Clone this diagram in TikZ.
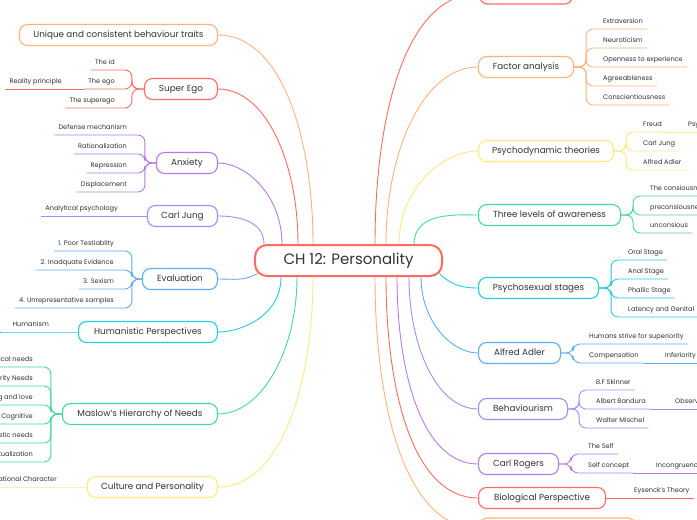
\documentclass[tikz,border=0pt]{standalone}
\usepackage{fontspec}
\setmainfont{Poppins}
\usetikzlibrary{positioning}
\definecolor{cred}{HTML}{FF6B61}
\definecolor{corange}{HTML}{FFB27C}
\definecolor{cyellow}{HTML}{FFE97D}
\definecolor{cgreen}{HTML}{45D8A6}
\definecolor{ccyan}{HTML}{26CCDA}
\definecolor{cblue}{HTML}{5DAEF3}
\definecolor{cviolet}{HTML}{9E8FF8}
\definecolor{cpurple}{HTML}{B67BEB}
\definecolor{txt}{HTML}{333333}

\begin{document}
\begin{tikzpicture}[x=1pt, y=1pt,
    br/.style={draw, fill=white, rounded corners=8pt, line width=1.1pt, minimum height=21pt, inner xsep=0pt, text height=7pt, text depth=2pt, font=\fontsize{8.8}{10}\selectfont, text=txt},
    kid/.style={inner xsep=4pt, inner ysep=2.5pt, text height=5pt, text depth=2.5pt, font=\fontsize{6.6}{8}\selectfont, text=txt},
    ln/.style={line width=0.9pt},
    fork/.style={line width=0.9pt, rounded corners=7pt},
    up/.style={out=90, out looseness=1.2, in looseness=0.7},
    down/.style={out=-90, out looseness=1.2, in looseness=0.7}
  ]
  \fill[white] (0,0) rectangle (697,-520);
  \useasboundingbox (0,0) rectangle (697,-520);
  \clip (0,0) rectangle (697,-520);

  \node[draw=cred, fill=white, line width=2pt, rounded corners=12pt, minimum width=187pt, minimum height=31pt, font=\fontsize{15}{18}\selectfont, text=txt] (ch) at (348.5,-260.5) {CH 12: Personality};

  % main branches, left
  \foreach \n/\t/\y/\w/\c in {uni/Unique and consistent behaviour traits/35/198/corange, sup/Super Ego/89/73/cred, anx/Anxiety/163/61/cpurple, cjl/Carl Jung/216/70/cviolet, ev/Evaluation/279/75/cblue, hum/Humanistic Perspectives/332/139/ccyan, mas/Maslow's Hierarchy of Needs/414/155/cgreen, cul/Culture and Personality/487/130/cyellow}
    \node[br, draw=\c, minimum width=\w pt, anchor=east] (\n) at (218,-\y) {\t};

  % main branches, right
  \node[br, draw=cred, minimum width=93pt, anchor=west] (top) at (479,6.5) {};
  \foreach \n/\t/\y/\w/\c in {fac/Factor analysis/67/95/corange, psy/Psychodynamic theories/151/135/cyellow, thr/Three levels of awareness/215/142/cgreen, pss/Psychosexual stages/288/120/ccyan, adl/Alfred Adler/353/82/cblue, beh/Behaviourism/409/89/cviolet, rog/Carl Rogers/464/80/cpurple, bio/Biological Perspective/498/127/cred}
    \node[br, draw=\c, minimum width=\w pt, anchor=west] (\n) at (478,-\y) {\t};
  \node[br, draw=corange, minimum width=156pt, anchor=west] (bot) at (479,-528.5) {};

  % links from the centre
  \foreach \n/\s/\c in {uni/59/corange, sup/44/cred, anx/28/cpurple, cjl/10/cviolet}
    \draw[ln, \c] ([xshift=\s pt]ch.north west) to[up, in=0] (\n.east);
  \foreach \n/\s/\c in {hum/27/ccyan, mas/43/cgreen, cul/59/cyellow}
    \draw[ln, \c] ([xshift=\s pt]ch.south west) to[down, in=0] (\n.east);
  \foreach \n/\s/\c in {top/121/cred, fac/132/corange, psy/145/cyellow, thr/160/cgreen}
    \draw[ln, \c] ([xshift=\s pt]ch.north west) to[up, in=180] (\n.west);
  \foreach \n/\s/\c in {bot/121/corange, bio/132/cred, rog/143/cpurple, beh/155/cviolet, adl/167/cblue}
    \draw[ln, \c] ([xshift=\s pt]ch.south west) to[down, in=180] (\n.west);
  \draw[ln, cblue] ([xshift=3.5pt, yshift=3.5pt]ch.south west) to[out=210, in=0] (ev.east);
  \draw[ln, ccyan] ([xshift=-3.5pt, yshift=3.5pt]ch.south east) to[out=-45, in=180] (pss.west);

  % super ego
  \foreach \i/\t/\y in {1/The id/70, 2/The ego/89, 3/The superego/108} {
    \node[kid, anchor=south east] (sup\i) at (119,-\y) {\t};
    \draw[fork, cred] (sup.west) -- ++(-12,0) |- (sup\i.south west);
  }
  \node[kid, anchor=south east] (sup4) at (66,-89) {Reality principle};
  \draw[ln, cred] (sup2.south west) -- (sup4.south west);

  % anxiety
  \foreach \i/\t/\y in {1/Defense mechanism/135, 2/Rationalization/154, 3/Repression/173, 4/Displacement/192} {
    \node[kid, anchor=south east] (anx\i) at (131,-\y) {\t};
    \draw[fork, cpurple] (anx.west) -- ++(-11,0) |- (anx\i.south west);
  }

  % carl jung
  \node[kid, anchor=south east] (cjl1) at (122,-216) {Analytical psychology};
  \draw[ln, cviolet] (cjl.west) -- (cjl1.south west);

  % evaluation
  \foreach \i/\t/\y in {1/1. Poor Testiablity/251, 2/2. Inadquate Evidence/270, 3/3. Sexism/289, 4/4. Unrepresentative samples/308} {
    \node[kid, anchor=south east] (ev\i) at (118,-\y) {\t};
    \draw[fork, cblue] (ev.west) -- ++(-10,0) |- (ev\i.south west);
  }

  % humanistic
  \node[kid, anchor=south east] (hum1) at (53,-332) {Humanism};
  \coordinate (humx) at (-5,-332);
  \draw[ln, ccyan] (hum.west) -- (hum1.south west) -- (humx);

  % maslow
  \foreach \i/\t/\y in {1/Physiological needs/367, 2/Safety and Security Needs/386, 3/Belonging  and love/405, 4/Esteem \& Cognitive/424, 5/Aesthetic needs/443, 6/Self-actualization/462} {
    \node[kid, anchor=south east] (mas\i) at (37,-\y) {\t};
    \draw[fork, cgreen] (mas.west) -- ++(-11,0) |- (mas\i.south west);
  }

  % culture
  \node[kid, anchor=south east] (cul1) at (61,-487) {National Character};
  \coordinate (culx) at (-5,-487);
  \draw[ln, cyellow] (cul.west) -- (cul1.south west) -- (culx);

  % factor analysis
  \foreach \i/\t/\y in {1/Extraversion/29, 2/Neuroticism/48, 3/Openness to experience/67, 4/Agreeableness/86, 5/Conscientiousness/105} {
    \node[kid, anchor=south west] (fac\i) at (599,-\y) {\t};
    \draw[fork, corange] (fac.east) -- ++(12,0) |- (fac\i.south east);
  }

  % psychodynamic
  \foreach \i/\t/\y in {1/Freud/132, 2/Carl Jung/151, 3/Alfred Adler/170} {
    \node[kid, anchor=south west] (psy\i) at (639,-\y) {\t};
    \draw[fork, cyellow] (psy.east) -- ++(12,0) |- (psy\i.south east);
  }
  \node[kid, anchor=south west] (psy4) at (684,-132) {Psychoanalysis};
  \draw[ln, cyellow] (psy1.south east) -- (psy4.south east);

  % awareness
  \foreach \i/\t/\y in {1/The consiousness/196, 2/preconsiousness/215, 3/unconsious/233} {
    \node[kid, anchor=south west] (thr\i) at (646,-\y) {\t};
    \draw[fork, cgreen] (thr.east) -- ++(12,0) |- (thr\i.south east);
  }

  % psychosexual
  \foreach \i/\t/\y in {1/Oral Stage/260, 2/Anal Stage/279, 3/Phallic Stage/298, 4/Latency and Genital/317} {
    \node[kid, anchor=south west] (pss\i) at (624,-\y) {\t};
    \draw[fork, ccyan] (pss.east) -- ++(12,0) |- (pss\i.south east);
  }

  % adler
  \foreach \i/\t/\y in {1/Humans strive for superiority/344, 2/Compensation/363} {
    \node[kid, anchor=south west] (adl\i) at (585,-\y) {\t};
    \draw[fork, cblue] (adl.east) -- ++(12,0) |- (adl\i.south east);
  }
  \node[kid, anchor=south west] (adl3) at (661,-363) {Inferiority complex};
  \draw[ln, cblue] (adl2.south east) -- (adl3.south east);

  % behaviourism
  \foreach \i/\t/\y in {1/B.F Skinner/390, 2/Albert Bandura/409, 3/Walter Mischel/428} {
    \node[kid, anchor=south west] (beh\i) at (592,-\y) {\t};
    \draw[fork, cviolet] (beh.east) -- ++(11,0) |- (beh\i.south east);
  }
  \node[kid, anchor=south west] (beh4) at (671,-409) {Observational learning};
  \draw[ln, cviolet] (beh2.south east) -- (beh4.south east);

  % rogers
  \foreach \i/\t/\y in {1/The Self/454, 2/Self concept/473} {
    \node[kid, anchor=south west] (rog\i) at (584,-\y) {\t};
    \draw[fork, cpurple] (rog.east) -- ++(12,0) |- (rog\i.south east);
  }
  \node[kid, anchor=south west] (rog3) at (652,-473) {Incongruence};
  \draw[ln, cpurple] (rog2.south east) -- (rog3.south east);

  % biological
  \node[kid, anchor=south west] (bio1) at (630,-498) {Eysenck's Theory};
  \draw[ln, cred] (bio.east) -- (bio1.south east);
\end{tikzpicture}
\end{document}
